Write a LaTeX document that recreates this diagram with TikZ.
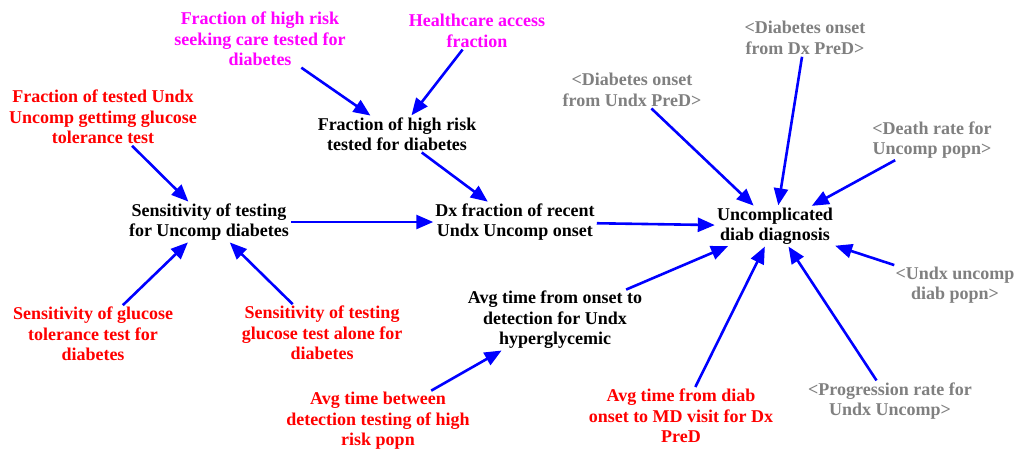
\documentclass[tikz,border=0pt]{standalone}
\usepackage{fontspec}
\setmainfont{Liberation Serif}
\usetikzlibrary{arrows.meta}
\definecolor{linkblue}{RGB}{0,0,255}
\definecolor{inmagenta}{RGB}{255,0,255}
\definecolor{inred}{RGB}{255,0,0}
\definecolor{shadowgray}{RGB}{128,128,128}
\tikzset{
  var/.style={align=center, inner sep=1pt, font=\fontsize{18}{20.5}\selectfont\bfseries},
  aux/.style={var, text=black},
  const/.style={var, text=inred},
  access/.style={var, text=inmagenta},
  shadow/.style={var, text=shadowgray},
  link/.style={draw=linkblue, line width=2.6pt,
    -{Triangle[length=17pt,width=14pt]}, shorten >=1pt, shorten <=1pt}
}
\begin{document}
\begin{tikzpicture}[x=1pt,y=-1pt]
\useasboundingbox (0,0) rectangle (1017,455);
\fill[white] (0,0) rectangle (1017,455);

% auxiliary variables
\node[aux] (fhr)   at (397,134) {Fraction of high risk\\tested for diabetes};
\node[aux] (sens)  at (209,222) {Sensitivity of testing\\for Uncomp diabetes};
\node[aux] (dxf)   at (515,222) {Dx fraction of recent\\Undx Uncomp onset};
\node[aux] (ucd)   at (775,226) {Uncomplicated\\diab diagnosis};
\node[aux] (avgod) at (555,320) {Avg time from onset to\\detection for Undx\\hyperglycemic};

% access inputs
\node[access] (fseek) at (260,39) {Fraction of high risk\\seeking care tested for\\diabetes};
\node[access] (hca)   at (477,31) {Healthcare access\\fraction};

% constants
\node[const] (fgtt)  at (103,117) {Fraction of tested Undx\\Uncomp gettimg glucose\\tolerance test};
\node[const] (sgtt)  at (93,334)  {Sensitivity of glucose\\tolerance test for\\diabetes};
\node[const] (sgta)  at (322,333) {Sensitivity of testing\\glucose test alone for\\diabetes};
\node[const] (avgdt) at (378,421) {Avg time between\\detection testing of high\\risk popn};
\node[const] (avgmd) at (681,416) {Avg time from diab\\onset to MD visit for Dx\\PreD};

% shadow variables
\node[shadow] (onsdx)  at (805,38)  {<Diabetes onset\\from Dx PreD>};
\node[shadow] (onsudx) at (632,90)  {<Diabetes onset\\from Undx PreD>};
\node[shadow] (death)  at (932,140) {<Death rate for\\Uncomp popn>};
\node[shadow] (undxp)  at (955,285) {<Undx uncomp\\diab popn>};
\node[shadow] (prog)   at (890,401) {<Progression rate for\\Undx Uncomp>};

% causal links
\draw[link] (fseek) -- (fhr);
\draw[link] (hca) -- (fhr);
\draw[link] (fgtt) -- (sens);
\draw[link] (fhr) -- (dxf);
\draw[link] (sens) -- (dxf);
\draw[link] (sgtt) -- (sens);
\draw[link] (sgta) -- (sens);
\draw[link] (dxf) -- (ucd);
\draw[link] (onsudx) -- (ucd);
\draw[link] (onsdx) -- (ucd);
\draw[link] (death) -- (ucd);
\draw[link] (undxp) -- (ucd);
\draw[link] (prog) -- (ucd);
\draw[link] (avgmd) -- (ucd);
\draw[link] (avgod) -- (ucd);
\draw[link] (avgdt) -- (avgod);
\end{tikzpicture}
\end{document}
